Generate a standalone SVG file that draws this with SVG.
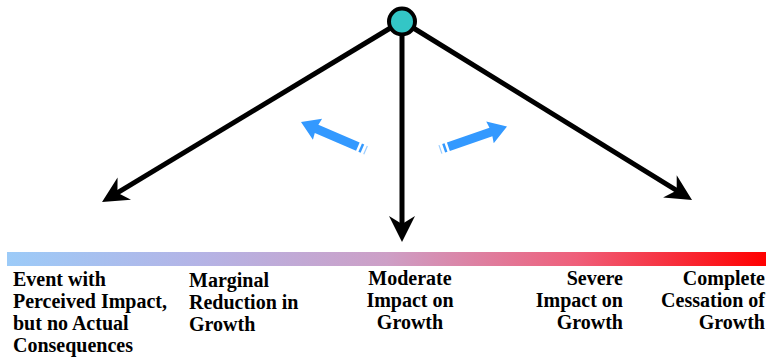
<svg xmlns="http://www.w3.org/2000/svg" width="766" height="360" viewBox="0 0 766 360">
<style>
text{font-family:'Liberation Serif','Times New Roman',serif;font-weight:700;font-size:20px;fill:#000}
.conn{stroke:#000;stroke-width:5;fill:none}
.blue{fill:#3399ff}
</style>
<defs>
<linearGradient id="grad" x1="0" y1="0" x2="1" y2="0">
<stop offset="0" stop-color="#9ccbf8"/>
<stop offset="0.25" stop-color="#b4b4e6"/>
<stop offset="0.5" stop-color="#cd9fc6"/>
<stop offset="0.75" stop-color="#ef5f7a"/>
<stop offset="1" stop-color="#ff0000"/>
</linearGradient>
<marker id="ah" viewBox="-16 -16 32 32" markerWidth="32" markerHeight="32" markerUnits="userSpaceOnUse" refX="0" refY="0" orient="auto">
<path d="M12,0 L-14,-13 L-6,0 L-14,13 Z" fill="#000"/>
</marker>
<g id="bluearrow">
<polygon class="blue" points="0,0 -18,-11.5 -17,-4.5 -62,-4.5 -62,4.5 -17,4.5 -18,11.5"/>
<rect class="blue" x="-67" y="-4.5" width="2.5" height="9"/>
<rect class="blue" x="-71" y="-4.5" width="1.2" height="9" opacity="0.5"/>
</g>
</defs>
<rect x="7" y="252" width="759" height="14" fill="url(#grad)"/>
<g id="connectors">
<line class="conn" x1="402" y1="21" x2="112.3" y2="195.8" marker-end="url(#ah)"/>
<line class="conn" x1="402" y1="33" x2="402" y2="230" marker-end="url(#ah)"/>
<line class="conn" x1="402" y1="21" x2="681.8" y2="193.7" marker-end="url(#ah)"/>
</g>
<g id="hub">
<circle cx="402" cy="21.5" r="13" fill="#33c6c6" stroke="#000" stroke-width="4"/>
</g>
<g id="arrow-left">
<use href="#bluearrow" transform="translate(301,122) rotate(203.5)"/>
</g>
<g id="arrow-right">
<use href="#bluearrow" transform="translate(507,126.5) rotate(-19)"/>
</g>
<g id="label1">
<text x="13" y="286">Event with</text>
<text x="13" y="308">Perceived Impact,</text>
<text x="13" y="330">but no Actual</text>
<text x="13" y="352">Consequences</text>
</g>
<g id="label2">
<text x="189" y="287">Marginal</text>
<text x="189" y="309">Reduction in</text>
<text x="189" y="331">Growth</text>
</g>
<g id="label3" text-anchor="middle">
<text x="410" y="285">Moderate</text>
<text x="410" y="307">Impact on</text>
<text x="410" y="329">Growth</text>
</g>
<g id="label4" text-anchor="end">
<text x="623" y="285">Severe</text>
<text x="623" y="307">Impact on</text>
<text x="623" y="329">Growth</text>
</g>
<g id="label5" text-anchor="end">
<text x="765" y="285">Complete</text>
<text x="765" y="307">Cessation of</text>
<text x="765" y="329">Growth</text>
</g>
</svg>
